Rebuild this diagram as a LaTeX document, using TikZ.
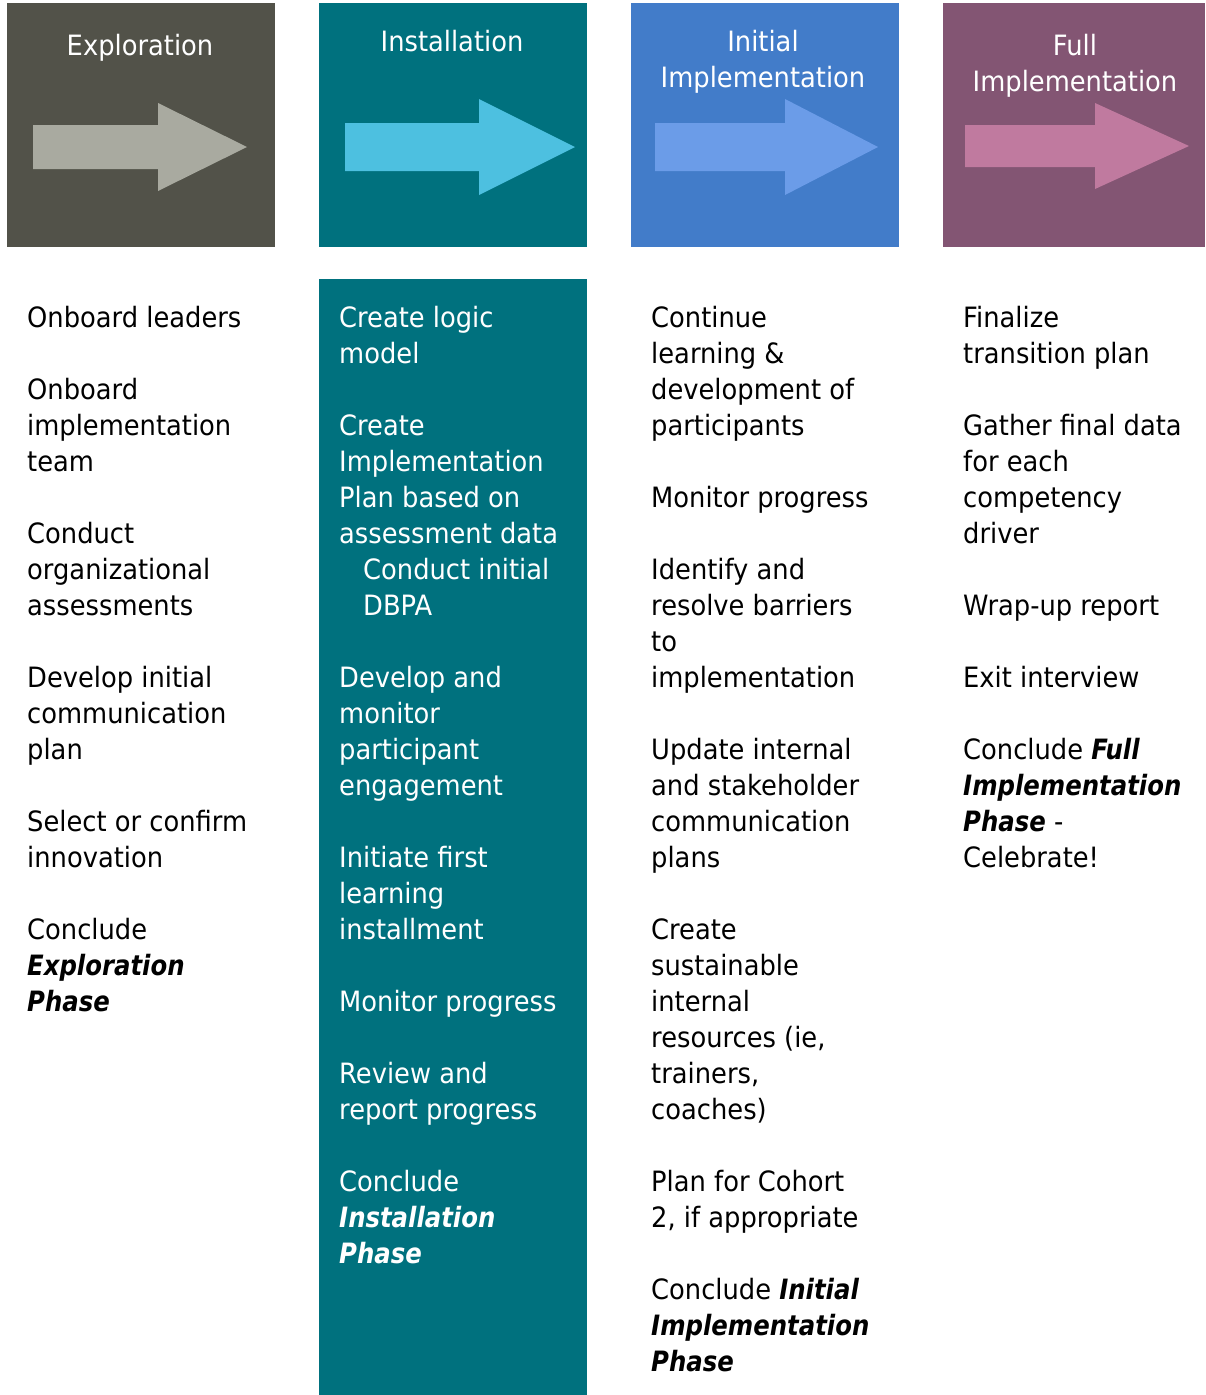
\documentclass[tikz,border=0pt]{standalone}
\usepackage{fontspec}
\setmainfont{DejaVu Sans}[FakeStretch=0.92, BoldItalicFeatures={FakeStretch=0.87}]
\definecolor{explorebg}{HTML}{525249}
\definecolor{installbg}{HTML}{00717E}
\definecolor{initialbg}{HTML}{427CC9}
\definecolor{fullbg}{HTML}{835573}
\definecolor{explorearrow}{HTML}{A9AAA0}
\definecolor{installarrow}{HTML}{4DC0E0}
\definecolor{initialarrow}{HTML}{6B9CE8}
\definecolor{fullarrow}{HTML}{C07A9F}
\newcommand{\topstrut}{\rule{0pt}{22pt}}
\newcommand{\phasename}[1]{\textbf{\textit{#1}}}

\begin{document}
\begin{tikzpicture}[x=1pt,y=-1pt,
  phasebox/.style={anchor=north west, inner sep=0pt, minimum width=268pt, minimum height=244pt},
  phasetitle/.style={anchor=north, align=center, inner sep=0pt, text=white, font=\fontsize{28}{36}\selectfont},
  tasklist/.style={anchor=north west, align=left, inner sep=0pt, font=\fontsize{28}{36}\selectfont}]
  \useasboundingbox (0,0) rectangle (1205,1395);

  % Phase header boxes
  \node[phasebox, fill=explorebg] (explore) at (7,3) {};
  \node[phasebox, fill=installbg] (install) at (319,3) {};
  \node[phasebox, fill=initialbg] (initial) at (631,3) {};
  \node[phasebox, fill=fullbg, minimum width=262pt] (full) at (943,3) {};

  % Teal column behind the installation steps
  \fill[installbg] (319,279) rectangle (587,1395);

  % Arrows in the headers
  \fill[explorearrow] (33,125) -- (158,125) -- (158,103) -- (247,147) -- (158,191) -- (158,169) -- (33,169) -- cycle;
  \fill[installarrow] (345,123) -- (479,123) -- (479,99) -- (575,147) -- (479,195) -- (479,171) -- (345,171) -- cycle;
  \fill[initialarrow] (655,123) -- (785,123) -- (785,99) -- (878,147) -- (785,195) -- (785,171) -- (655,171) -- cycle;
  \fill[fullarrow] (965,125) -- (1095,125) -- (1095,103) -- (1189,146) -- (1095,189) -- (1095,167) -- (965,167) -- cycle;

  % Header titles
  \node[phasetitle] (exploretitle) at (140,33) {\topstrut Exploration};
  \node[phasetitle] (installtitle) at (452,29) {\topstrut Installation};
  \node[phasetitle] (initialtitle) at (763,29) {\topstrut Initial\\Implementation};
  \node[phasetitle] (fulltitle) at (1075,33) {\topstrut Full\\Implementation};

  % Steps of each phase
  \node[tasklist] (exploresteps) at (27,305) {\topstrut Onboard leaders\\[36pt]
    Onboard\\implementation\\team\\[36pt]
    Conduct\\organizational\\assessments\\[36pt]
    Develop initial\\communication\\plan\\[36pt]
    Select or confirm\\innovation\\[36pt]
    Conclude\\\phasename{Exploration}\\\phasename{Phase}};

  \node[tasklist, text=white] (installsteps) at (339,305) {\topstrut Create logic\\model\\[36pt]
    Create\\Implementation\\Plan based on\\assessment data\\
    \hspace*{24pt}Conduct initial\\\hspace*{24pt}DBPA\\[36pt]
    Develop and\\monitor\\participant\\engagement\\[36pt]
    Initiate first\\learning\\installment\\[36pt]
    Monitor progress\\[36pt]
    Review and\\report progress\\[36pt]
    Conclude\\\phasename{Installation}\\\phasename{Phase}};

  \node[tasklist] (initialsteps) at (651,305) {\topstrut Continue\\learning \&\\development of\\participants\\[36pt]
    Monitor progress\\[36pt]
    Identify and\\resolve barriers\\to\\implementation\\[36pt]
    Update internal\\and stakeholder\\communication\\plans\\[36pt]
    Create\\sustainable\\internal\\resources (ie,\\trainers,\\coaches)\\[36pt]
    Plan for Cohort\\2, if appropriate\\[36pt]
    Conclude \phasename{Initial}\\\phasename{Implementation}\\\phasename{Phase}};

  \node[tasklist] (fullsteps) at (963,305) {\topstrut Finalize\\transition plan\\[36pt]
    Gather final data\\for each\\competency\\driver\\[36pt]
    Wrap-up report\\[36pt]
    Exit interview\\[36pt]
    Conclude \phasename{Full}\\\phasename{Implementation}\\\phasename{Phase} -\\Celebrate!};
\end{tikzpicture}
\end{document}
